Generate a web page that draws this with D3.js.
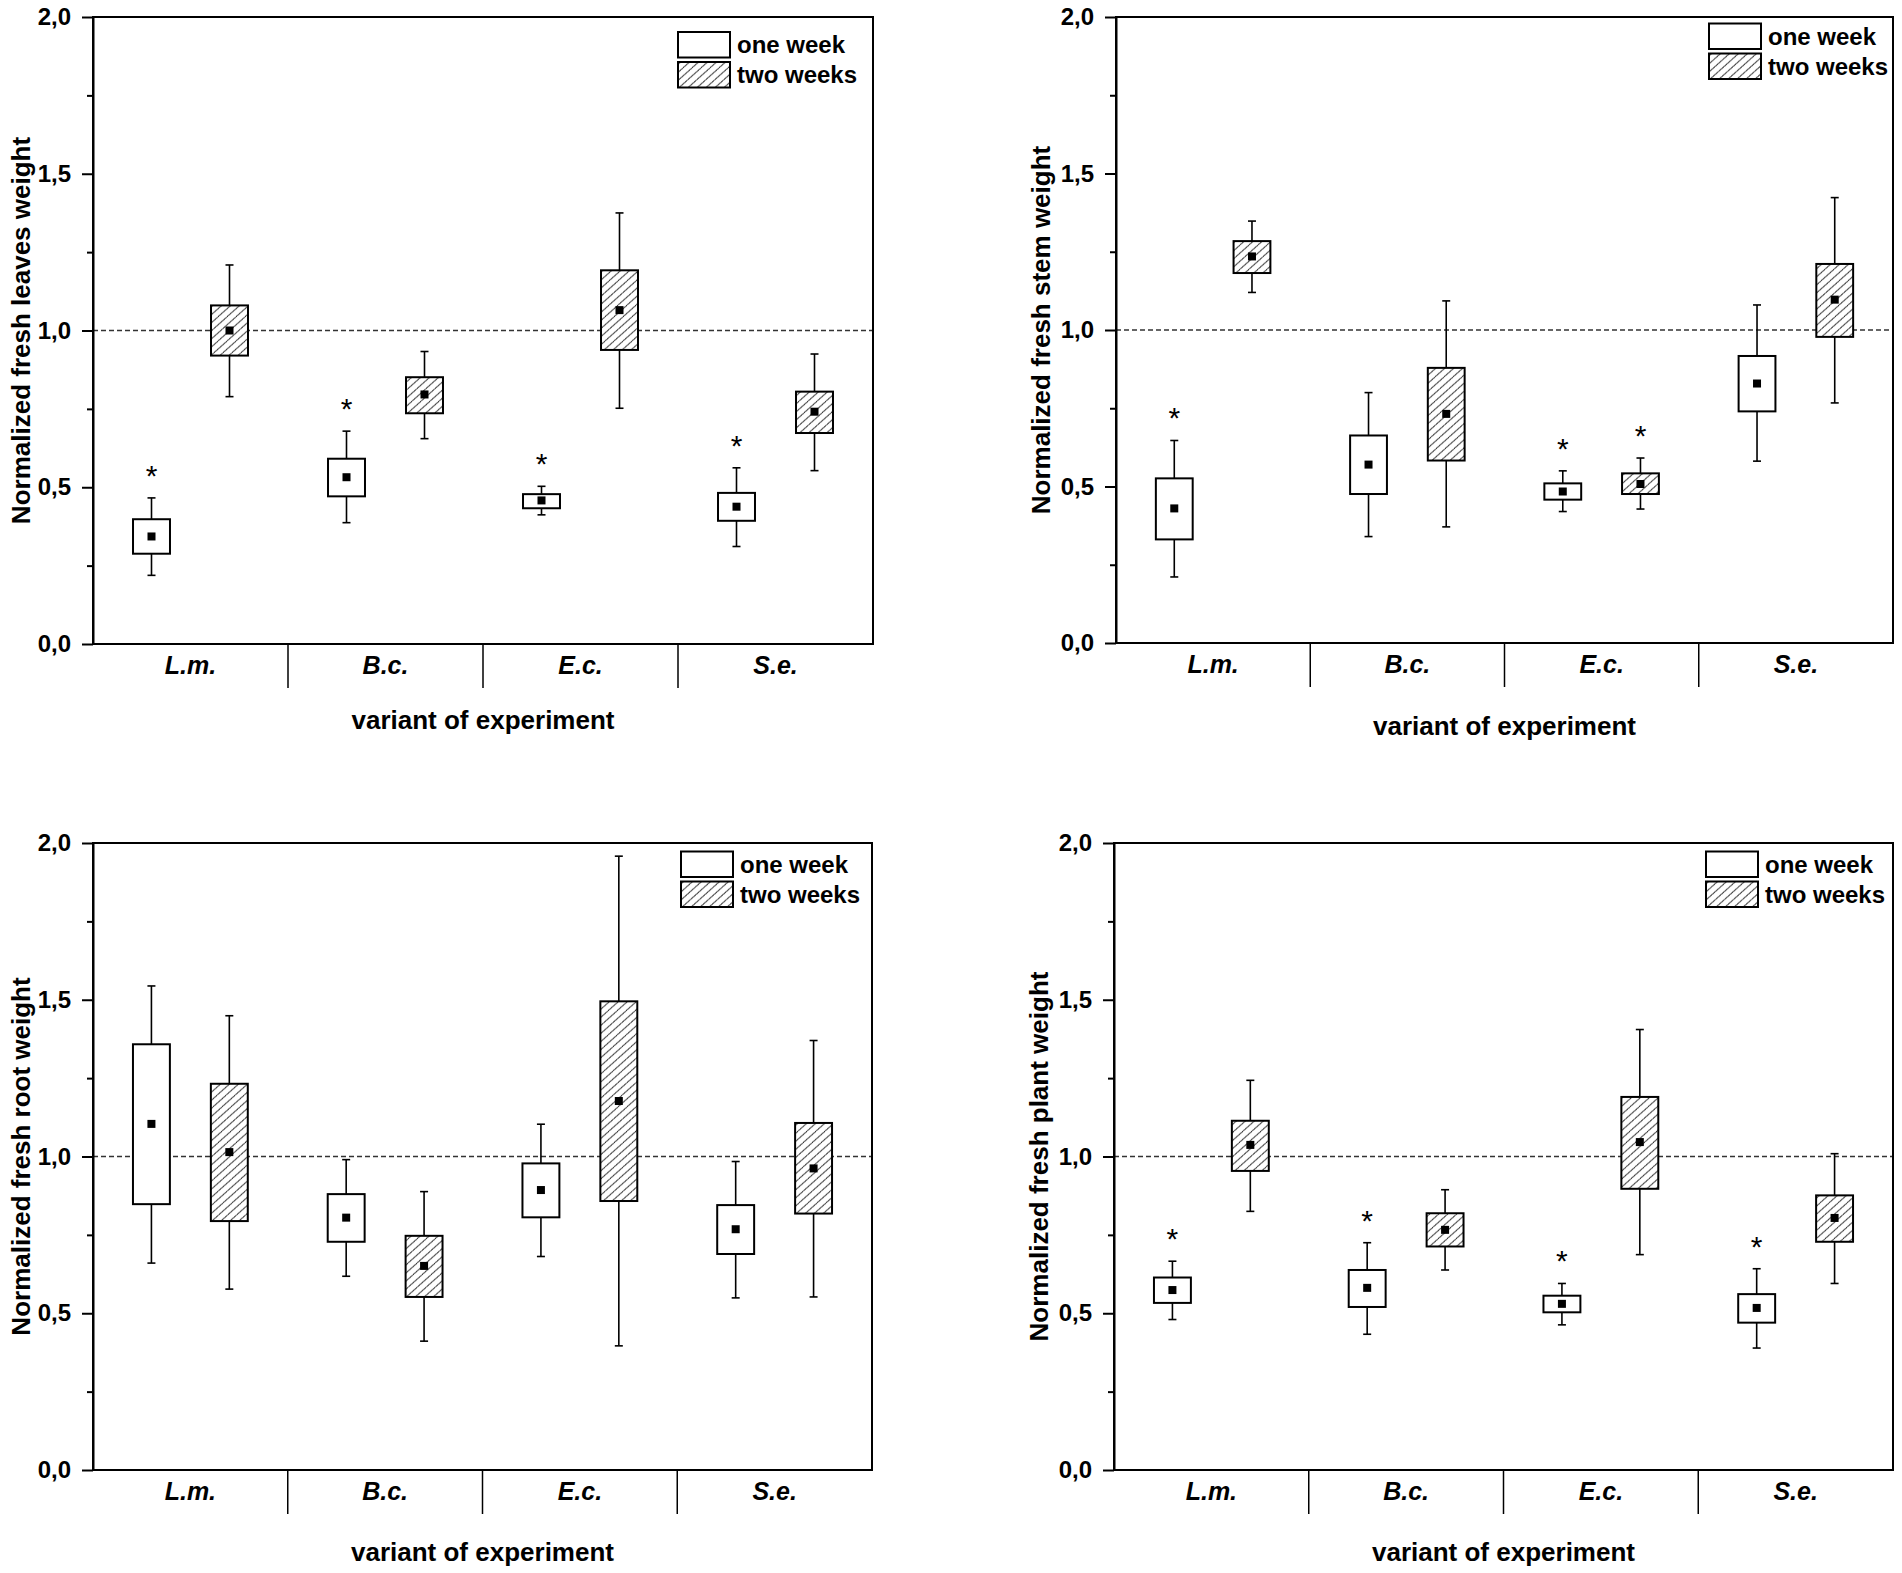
<!DOCTYPE html>
<meta charset="utf-8" />
<title>Normalized fresh weight - box plots</title>
<style>
  body { margin: 0; background: #fff; }
  svg { display: block; }
  text { font-family: "Liberation Sans", Arial, sans-serif; fill: #000; }
  .tick text { font-size: 24px; font-weight: bold; }
  .yaxis path, .yaxis line { stroke: #000; stroke-width: 2px; }
  .cat text { font-size: 25px; font-weight: bold; font-style: italic; }
  .frame { fill: none; stroke: #000; stroke-width: 2px; }
  .divider { stroke: #000; stroke-width: 1.5px; }
  .ref { stroke: #333; stroke-width: 1.4px; stroke-dasharray: 5 3; }
  .whisker { stroke: #000; stroke-width: 1.6px; }
  .box { stroke: #000; stroke-width: 2px; }
  .mean { fill: #000; }
  .star { font-size: 30px; }
  .title { font-size: 26px; font-weight: bold; }
  .legend text { font-size: 24px; font-weight: bold; }
</style>
<body>
<svg width="1902" height="1573"></svg>
<script src="https://d3js.org/d3.v7.min.js"></script>
<script>
const groups = ["L.m.", "B.c.", "E.c.", "S.e."];
const series = ["one week", "two weeks"];
const yTicks = [0, 0.5, 1, 1.5, 2];
const yMinor = [0.25, 0.75, 1.25, 1.75];

// each entry: [whisker low, box low, mean, box high, whisker high]
const leavesOne = [[0.219, 0.288, 0.343, 0.398, 0.466], [0.387, 0.471, 0.532, 0.591, 0.679], [0.412, 0.433, 0.458, 0.478, 0.503], [0.311, 0.393, 0.438, 0.482, 0.562]];
const leavesTwo = [[0.789, 0.920, 1.000, 1.080, 1.209], [0.655, 0.736, 0.796, 0.851, 0.933], [0.752, 0.938, 1.065, 1.192, 1.375], [0.553, 0.673, 0.741, 0.805, 0.925]];
const leavesStarOne = [true, true, true, true];
const leavesStarTwo = [false, false, false, false];

const stemOne = [[0.211, 0.331, 0.430, 0.526, 0.647], [0.340, 0.476, 0.570, 0.663, 0.800], [0.420, 0.458, 0.484, 0.510, 0.550], [0.581, 0.740, 0.829, 0.917, 1.080]];
const stemTwo = [[1.120, 1.182, 1.235, 1.284, 1.348], [0.371, 0.583, 0.732, 0.879, 1.093], [0.428, 0.476, 0.508, 0.542, 0.591], [0.767, 0.978, 1.097, 1.211, 1.423]];
const stemStarOne = [true, false, true, false];
const stemStarTwo = [false, false, true, false];

const rootOne = [[0.660, 0.848, 1.104, 1.358, 1.544], [0.618, 0.728, 0.805, 0.880, 0.990], [0.681, 0.806, 0.893, 0.978, 1.103], [0.549, 0.689, 0.768, 0.845, 0.984]];
const rootTwo = [[0.577, 0.794, 1.014, 1.232, 1.449], [0.411, 0.552, 0.651, 0.747, 0.888], [0.396, 0.858, 1.177, 1.495, 1.958], [0.552, 0.818, 0.962, 1.107, 1.370]];
const rootStarOne = [false, false, false, false];
const rootStarTwo = [false, false, false, false];

const plantOne = [[0.480, 0.533, 0.574, 0.614, 0.666], [0.433, 0.520, 0.581, 0.638, 0.725], [0.463, 0.503, 0.530, 0.556, 0.595], [0.389, 0.470, 0.517, 0.561, 0.642]];
const plantTwo = [[0.825, 0.954, 1.037, 1.114, 1.243], [0.638, 0.713, 0.766, 0.819, 0.894], [0.687, 0.897, 1.046, 1.190, 1.405], [0.595, 0.728, 0.804, 0.876, 1.009]];
const plantStarOne = [true, true, true, true];
const plantStarTwo = [false, false, false, false];

const panels = [
  { ylabel: "Normalized fresh leaves weight", one: leavesOne, two: leavesTwo, s1: leavesStarOne, s2: leavesStarTwo,
    left: 93, top: 17, right: 873, bottom: 644, legDx: 195, legDy: 15, titleDy: 85, ylabX: 63 },
  { ylabel: "Normalized fresh stem weight", one: stemOne, two: stemTwo, s1: stemStarOne, s2: stemStarTwo,
    left: 1116, top: 17, right: 1893, bottom: 643, legDx: 184, legDy: 6.5, titleDy: 92, ylabX: 66 },
  { ylabel: "Normalized fresh root weight", one: rootOne, two: rootTwo, s1: rootStarOne, s2: rootStarTwo,
    left: 93, top: 843, right: 872, bottom: 1470, legDx: 191, legDy: 8.5, titleDy: 91, ylabX: 63 },
  { ylabel: "Normalized fresh plant weight", one: plantOne, two: plantTwo, s1: plantStarOne, s2: plantStarTwo,
    left: 1114, top: 843, right: 1893, bottom: 1470, legDx: 187, legDy: 8.5, titleDy: 91, ylabX: 66 }
];

const svg = d3.select("svg");
svg.append("rect").attr("width", 1902).attr("height", 1573).attr("fill", "#fff");

svg.append("defs").append("pattern")
  .attr("id", "hatch")
  .attr("patternUnits", "userSpaceOnUse")
  .attr("width", 9).attr("height", 12)
  .attr("patternTransform", "skewX(-20)")
  .call(p => p.append("rect").attr("width", 9).attr("height", 12).attr("fill", "#fff"))
  .call(p => p.append("path")
    .attr("d", "M0,12 L9,0 M-9,12 L0,0 M9,12 L18,0")
    .attr("stroke", "#222").attr("stroke-width", 1));

const fmt = d => d3.format(".1f")(d).replace(".", ",");

panels.forEach(p => {
  const w = p.right - p.left, h = p.bottom - p.top;
  const g = svg.append("g").attr("transform", `translate(${p.left},${p.top})`);

  const x = d3.scaleBand().domain(groups).range([0, w]);
  const xi = d3.scaleBand().domain(series).range([0, x.bandwidth()])
    .paddingInner(0.526).paddingOuter(0.513);
  const y = d3.scaleLinear().domain([0, 2]).range([h, 0]);

  // reference line at 1,0
  g.append("line").attr("class", "ref")
    .attr("x1", 0).attr("x2", w).attr("y1", y(1)).attr("y2", y(1));

  // y axis major + minor
  g.append("g").attr("class", "yaxis")
    .call(d3.axisLeft(y).tickValues(yTicks).tickFormat(fmt).tickSize(11).tickPadding(11).tickSizeOuter(0));
  g.append("g").attr("class", "yaxis")
    .call(d3.axisLeft(y).tickValues(yMinor).tickFormat("").tickSize(6).tickSizeOuter(0))
    .select(".domain").remove();

  // category labels
  g.append("g").attr("class", "cat")
    .attr("transform", `translate(0,${h})`)
    .call(d3.axisBottom(x).tickSize(0).tickPadding(12))
    .call(a => a.select(".domain").remove());

  // dividers between groups
  g.selectAll(".divider").data(groups.slice(1)).join("line")
    .attr("class", "divider")
    .attr("x1", d => x(d)).attr("x2", d => x(d))
    .attr("y1", h).attr("y2", h + 44);

  // boxes
  const items = [];
  groups.forEach((gr, i) => {
    items.push({ g: gr, s: series[0], v: p.one[i], star: p.s1[i] });
    items.push({ g: gr, s: series[1], v: p.two[i], star: p.s2[i] });
  });
  const bw = xi.bandwidth();
  const cx = d => x(d.g) + xi(d.s) + bw / 2;
  const cap = 4;

  const b = g.selectAll(".item").data(items).join("g").attr("class", "item");
  b.append("line").attr("class", "whisker")
    .attr("x1", cx).attr("x2", cx).attr("y1", d => y(d.v[0])).attr("y2", d => y(d.v[4]));
  b.append("line").attr("class", "whisker")
    .attr("x1", d => cx(d) - cap).attr("x2", d => cx(d) + cap)
    .attr("y1", d => y(d.v[0])).attr("y2", d => y(d.v[0]));
  b.append("line").attr("class", "whisker")
    .attr("x1", d => cx(d) - cap).attr("x2", d => cx(d) + cap)
    .attr("y1", d => y(d.v[4])).attr("y2", d => y(d.v[4]));
  b.append("rect").attr("class", "box")
    .attr("x", d => cx(d) - bw / 2).attr("width", bw)
    .attr("y", d => y(d.v[3])).attr("height", d => y(d.v[1]) - y(d.v[3]))
    .attr("fill", d => d.s === series[0] ? "#fff" : "url(#hatch)");
  b.append("rect").attr("class", "mean")
    .attr("x", d => cx(d) - 4).attr("y", d => y(d.v[2]) - 4)
    .attr("width", 8).attr("height", 8);
  b.filter(d => d.star).append("text").attr("class", "star")
    .attr("x", cx).attr("y", d => y(d.v[4]) - 12)
    .attr("text-anchor", "middle").text("*");

  // frame
  g.append("rect").attr("class", "frame").attr("width", w).attr("height", h);

  // legend
  const leg = g.append("g").attr("class", "legend")
    .attr("transform", `translate(${w - p.legDx},${p.legDy})`);
  series.forEach((s, i) => {
    leg.append("rect").attr("class", "box")
      .attr("x", 0).attr("y", i * 30).attr("width", 52).attr("height", 25.5)
      .attr("fill", i === 0 ? "#fff" : "url(#hatch)");
    leg.append("text").attr("x", 59).attr("y", i * 30 + 21).text(s);
  });

  // titles
  g.append("text").attr("class", "title")
    .attr("x", w / 2).attr("y", h + p.titleDy)
    .attr("text-anchor", "middle").text("variant of experiment");
  g.append("text").attr("class", "title")
    .attr("transform", `translate(${-p.ylabX},${h / 2}) rotate(-90)`)
    .attr("text-anchor", "middle").text(p.ylabel);
});
</script>
</body>
